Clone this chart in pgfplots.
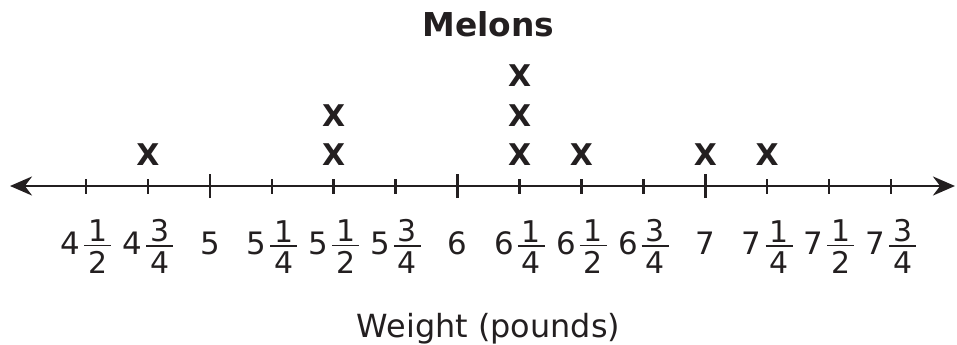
\documentclass[border=0pt]{standalone}
\usepackage{pgfplots}
\pgfplotsset{compat=1.18}
\usepackage{fontspec}
\setmainfont{DejaVu Sans}
\usetikzlibrary{arrows.meta}
\definecolor{ink}{RGB}{35,31,32}
\newcommand\fr[2]{\raisebox{-19bp}{\fontsize{30}{34}\selectfont\vbox{\hbox to 27bp{\hss#1\hss}\kern3bp\hrule height 1.5bp\kern5bp\hbox to 27bp{\hss#2\hss}}}}
\newcommand\mx[3]{#1\kern4bp\fr{#2}{#3}}
\begin{document}
\begin{tikzpicture}
\begin{axis}[
  x=247.7bp, y=39.5bp,
  xmin=4.193, xmax=8.008, ymin=0.215, ymax=4.3,
  axis y line=none, ytick=\empty,
  axis x line=bottom,
  x axis line style={{Stealth[length=22bp,width=19bp]}-{Stealth[length=22bp,width=19bp]}, line width=2.8bp, draw=ink},
  xtick={4.5,4.75,5,5.25,5.5,5.75,6,6.25,6.5,6.75,7,7.25,7.5,7.75},
  xticklabels={\mx4{1}{2},\mx4{3}{4},5,\mx5{1}{4},\mx5{1}{2},\mx5{3}{4},6,\mx6{1}{4},\mx6{1}{2},\mx6{3}{4},7,\mx7{1}{4},\mx7{1}{2},\mx7{3}{4}},
  major tick length=15bp,
  tick align=center,
  tick style={line width=2.5bp, draw=ink},
  extra x ticks={5,6,7},
  extra x tick labels={,,},
  extra x tick style={major tick length=24bp},
  xticklabel style={anchor=base, yshift=-61bp, font=\fontsize{31}{36}\selectfont, text=ink},
  clip=false,
  title={Melons},
  title style={at={(axis description cs:0.5064,0.8925)}, anchor=base, font=\fontsize{33}{38}\selectfont\bfseries, text=ink},
  xlabel={Weight (pounds)},
  xlabel style={at={(axis description cs:0.5064,-0.9358)}, anchor=base, font=\fontsize{32}{36}\selectfont, text=ink},
]
\addplot[only marks, mark=text, text mark={X}, text mark as node=true,
  text mark style={font=\fontsize{30}{36}\selectfont\bfseries, text=ink}, color=ink]
  coordinates {(4.75,1) (5.5,1) (5.5,2) (6.25,1) (6.25,2) (6.25,3) (6.5,1) (7,1) (7.25,1)};
\coordinate (O) at (axis cs:4.193,0.215);
\end{axis}
\pgfresetboundingbox
\path[use as bounding box] ([shift={(-10bp,-159bp)}]O) rectangle ([shift={(947bp,186bp)}]O);
\end{tikzpicture}
\end{document}
